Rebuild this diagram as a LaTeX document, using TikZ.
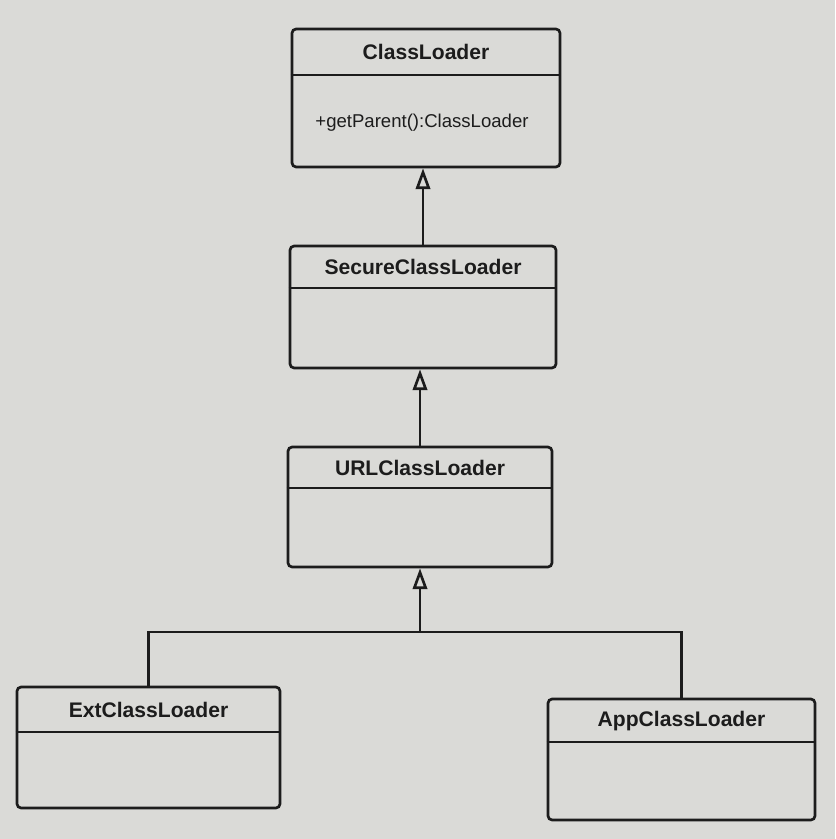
\documentclass[tikz,border=0pt]{standalone}
\usepackage{fontspec}
\setmainfont{Liberation Sans}
\usetikzlibrary{arrows.meta}
\definecolor{paper}{RGB}{218,218,215}
\definecolor{ink}{RGB}{28,28,28}
\begin{document}
\begin{tikzpicture}[x=0.025cm, y=-0.025cm, color=ink, line width=1.9pt,
    box/.style={draw, rounded corners=3pt, inner sep=0pt},
    title/.style={font=\fontsize{15}{18}\selectfont\bfseries},
    member/.style={font=\fontsize{13.2}{15}\selectfont},
    gen/.style={-{Triangle[open, length=0.52cm, width=0.36cm]}}]
    \fill[paper] (0,0) rectangle (835,839);
    \useasboundingbox (0,0) rectangle (835,839);

    \node[box, minimum width=6.7cm, minimum height=3.45cm] (classloader) at (426,98) {};
    \node[title] (classloaderT) at (426,52) {ClassLoader};
    \node[member] (getparent) at (422,123) {+getParent():ClassLoader};
    \draw (classloader.west |- 0,75) -- (classloader.east |- 0,75);

    \node[box, minimum width=6.65cm, minimum height=3.05cm] (secure) at (423,307) {};
    \node[title] (secureT) at (423,267) {SecureClassLoader};
    \draw (secure.west |- 0,288) -- (secure.east |- 0,288);

    \node[box, minimum width=6.6cm, minimum height=3cm] (urlloader) at (420,507) {};
    \node[title] (urlloaderT) at (420,468) {URLClassLoader};
    \draw (urlloader.west |- 0,488) -- (urlloader.east |- 0,488);

    \node[box, minimum width=6.575cm, minimum height=3.025cm] (extloader) at (148.5,747.5) {};
    \node[title] (extloaderT) at (148.5,710) {ExtClassLoader};
    \draw (extloader.west |- 0,732) -- (extloader.east |- 0,732);

    \node[box, minimum width=6.675cm, minimum height=3.025cm] (apploader) at (681.5,759.5) {};
    \node[title] (apploaderT) at (681.5,721) {AppClassLoader};
    \draw (apploader.west |- 0,742) -- (apploader.east |- 0,742);

    \draw[gen] (secure.north) -- (secure.north |- classloader.south);
    \draw[gen] (urlloader.north) -- (urlloader.north |- secure.south);

    \coordinate (fork) at (420,632);
    \draw[gen] (fork) -- (urlloader.south);
    \draw (extloader.north) |- (fork) -| (apploader.north);
\end{tikzpicture}
\end{document}
